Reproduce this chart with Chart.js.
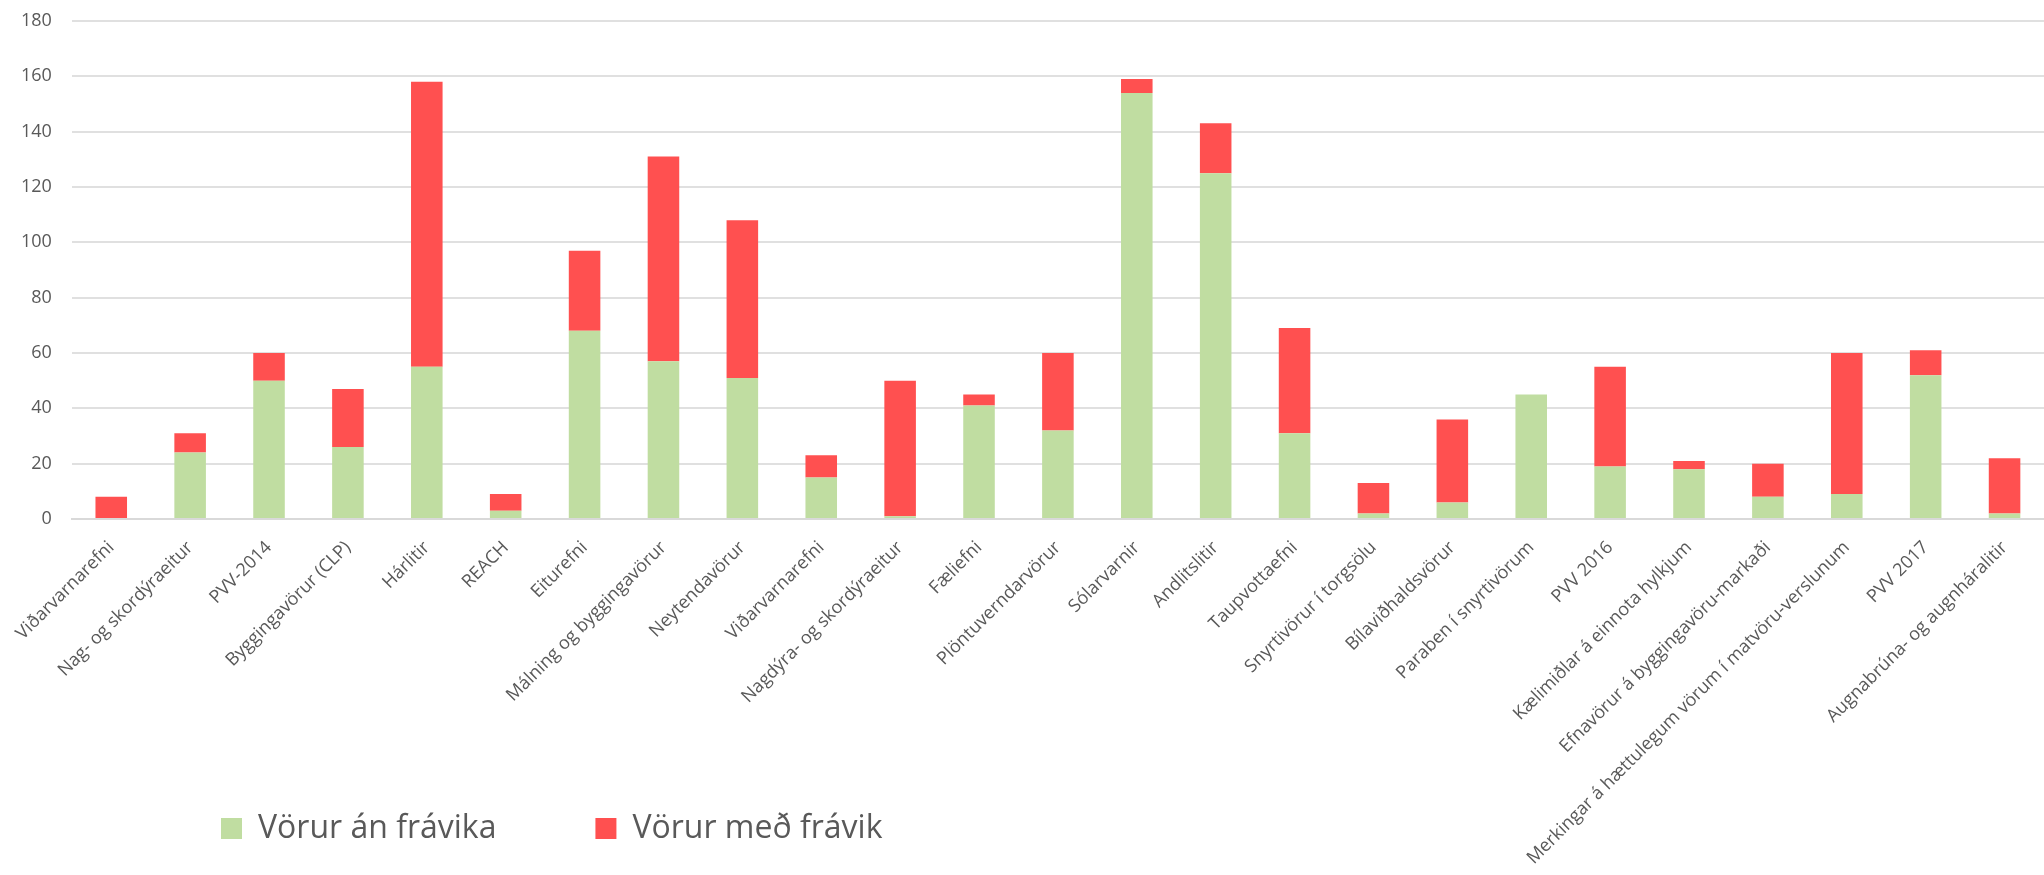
<!DOCTYPE html>
<html lang="is">
<head>
    <meta charset="UTF-8">
    <title>Vörur með og án frávika</title>
    <script src="https://cdn.jsdelivr.net/npm/chart.js"></script>
    <style>
        html, body { margin: 0; padding: 0; background: #ffffff; }
        .wrap { width: 2044px; height: 875px; }
    </style>
</head>
<body>
    <div class="wrap"><canvas id="chart" width="2044" height="875"></canvas></div>

    <script>
        // Verkefni (flokkar á x-ás)
        const categories = [
            'Viðarvarnarefni', 'Nag- og skordýraeitur', 'PVV-2014', 'Byggingavörur (CLP)', 'Hárlitir',
            'REACH', 'Eiturefni', 'Málning og byggingavörur', 'Neytendavörur', 'Viðarvarnarefni',
            'Nagdýra- og skordýraeitur', 'Fæliefni', 'Plöntuverndarvörur', 'Sólarvarnir', 'Andlitslitir',
            'Taupvottaefni', 'Snyrtivörur í torgsölu', 'Bílaviðhaldsvörur', 'Paraben í snyrtivörum', 'PVV 2016',
            'Kælimiðlar á einnota hylkjum', 'Efnavörur á byggingavöru-markaði',
            'Merkingar á hættulegum vörum í matvöru-verslunum', 'PVV 2017', 'Augnabrúna- og augnháralitir'
        ];

        // Fjöldi vara án frávika
        const withoutDeviation = [0, 24, 50, 26, 55, 3, 68, 57, 51, 15, 1, 41, 32, 154, 125, 31, 2, 6, 45, 19, 18, 8, 9, 52, 2];

        // Fjöldi vara með frávik
        const withDeviation = [8, 7, 10, 21, 103, 6, 29, 74, 57, 8, 49, 4, 28, 5, 18, 38, 11, 30, 0, 36, 3, 12, 51, 9, 20];

        const seriesNames = ['Vörur án frávika', 'Vörur með frávik'];
        const yTicks = [0, 20, 40, 60, 80, 100, 120, 140, 160, 180];

        const textGray = '#595959';

        // Skýringin tekur ekkert pláss í útlitinu (maxHeight) og er svo færð
        // niður vinstra megin eins og í Excel-myndinni
        const legendSpot = {
            id: 'legendSpot',
            afterLayout(chart) {
                const lg = chart.legend;
                const pad = lg.options.labels.padding;
                const h = 32 + pad + 10;
                lg.left = 221 - pad;
                lg.right = chart.width;
                lg.width = lg.right - lg.left;
                lg.top = 812.5 - pad;
                lg.bottom = lg.top + h;
                lg.height = h;
            }
        };

        const ctx = document.getElementById('chart').getContext('2d');
        new Chart(ctx, {
            type: 'bar',
            data: {
                labels: categories,
                datasets: [{
                    label: seriesNames[0],
                    data: withoutDeviation,
                    backgroundColor: '#c0dda1',
                    borderWidth: 0
                }, {
                    label: seriesNames[1],
                    data: withDeviation,
                    backgroundColor: '#ff5050',
                    borderWidth: 0
                }]
            },
            options: {
                responsive: false,
                animation: false,
                datasets: { bar: { categoryPercentage: 1, barPercentage: 0.4 } },
                layout: { padding: { top: 21, right: 0, left: 0, bottom: 0 } },
                plugins: {
                    tooltip: { enabled: false },
                    legend: {
                        position: 'bottom',
                        align: 'start',
                        maxHeight: 1,
                        labels: {
                            boxWidth: 21,
                            boxHeight: 21,
                            padding: 99,
                            color: textGray,
                            font: { family: "'Open Sans', sans-serif", size: 32 }
                        }
                    }
                },
                scales: {
                    x: {
                        stacked: true,
                        grid: { display: false, drawTicks: false },
                        border: { display: true, color: '#d9d9d9', width: 2 },
                        ticks: {
                            autoSkip: false,
                            minRotation: 45,
                            maxRotation: 45,
                            padding: 18,
                            color: textGray,
                            font: { family: "'Open Sans', sans-serif", size: 18 }
                        },
                        afterFit(scale) {
                            scale.height = scale.chart.height - scale.chart.legend.height - 519;
                        }
                    },
                    y: {
                        stacked: true,
                        min: 0,
                        max: 180,
                        afterBuildTicks(scale) {
                            scale.ticks = yTicks.map(v => ({ value: v }));
                        },
                        grid: { color: '#e0e0e0', lineWidth: 2, drawTicks: false },
                        border: { display: false },
                        ticks: {
                            padding: 20,
                            color: textGray,
                            font: { family: "'Open Sans', sans-serif", size: 18 }
                        },
                        afterFit(scale) {
                            scale.width = 69;
                            // tick-padding á ekki að ýta teiknisvæðinu niður
                            scale.paddingTop = 0;
                            scale.paddingBottom = 0;
                        }
                    }
                }
            },
            plugins: [legendSpot]
        });
    </script>
</body>
</html>
